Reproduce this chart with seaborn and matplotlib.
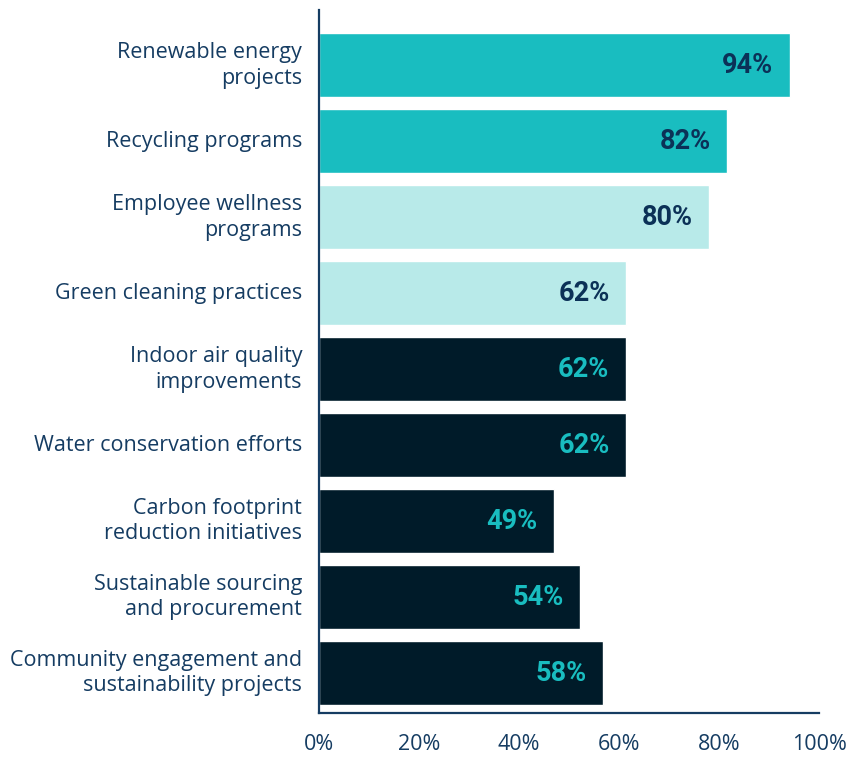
import matplotlib
matplotlib.use("Agg")
import matplotlib.pyplot as plt
import seaborn as sns
import pandas as pd

categories = [
    "Renewable energy\nprojects",
    "Recycling programs",
    "Employee wellness\nprograms",
    "Green cleaning practices",
    "Indoor air quality\nimprovements",
    "Water conservation efforts",
    "Carbon footprint\nreduction initiatives",
    "Sustainable sourcing\nand procurement",
    "Community engagement and\nsustainability projects",
]
values = [94.2, 81.7, 78.1, 61.5, 61.4, 61.5, 47.1, 52.3, 56.9]
value_labels = ["94%", "82%", "80%", "62%", "62%", "62%", "49%", "54%", "58%"]
groups = ["top", "top", "mid", "mid", "low", "low", "low", "low", "low"]
xticks = [0, 20, 40, 60, 80, 100]
xtick_labels = ["0%", "20%", "40%", "60%", "80%", "100%"]

bar_colors = {"top": "#19BDC0", "mid": "#B8EAE9", "low": "#001B29"}
text_colors = {"top": "#0B3157", "mid": "#0B3157", "low": "#19BDC0"}
axis_color = "#153C62"

sns.set_theme(style="white")
plt.rcParams["font.family"] = ["Open Sans", "DejaVu Sans"]

df = pd.DataFrame({"category": categories, "value": values, "group": groups})

fig = plt.figure(figsize=(8.52, 7.59), dpi=100)
ax = fig.add_axes([318.7 / 852, 1 - 713 / 759, (819 - 318.7) / 852, (713 - 9.5) / 759])

sns.barplot(data=df, x="value", y="category", hue="group", palette=bar_colors,
            dodge=False, legend=False, width=0.84, orient="h", ax=ax,
            saturation=1)

ax.set_xlim(0, 100)
ax.set_ylim(8.526, -0.733)
ax.set_xlabel("")
ax.set_ylabel("")
ax.set_xticks(xticks)
ax.set_xticklabels(xtick_labels, fontsize=15.5, color=axis_color)
ax.set_yticks(range(len(categories)))
ax.set_yticklabels(categories, fontsize=15.5, color=axis_color, linespacing=1.3,
                   va="center")
ax.tick_params(axis="y", length=0, pad=12)
ax.tick_params(axis="x", length=0, pad=15)

for s in ["top", "right"]:
    ax.spines[s].set_visible(False)
for s in ["left", "bottom"]:
    ax.spines[s].set_color(axis_color)
    ax.spines[s].set_linewidth(1.6)

for i, (v, lab, g) in enumerate(zip(values, value_labels, groups)):
    ax.annotate(lab, xy=(v, i), xytext=(-12, 0), textcoords="offset points",
                ha="right", va="center", fontsize=19.5, fontweight="bold",
                color=text_colors[g], family=["Roboto", "DejaVu Sans"])

fig.savefig("out.png", dpi=100)
